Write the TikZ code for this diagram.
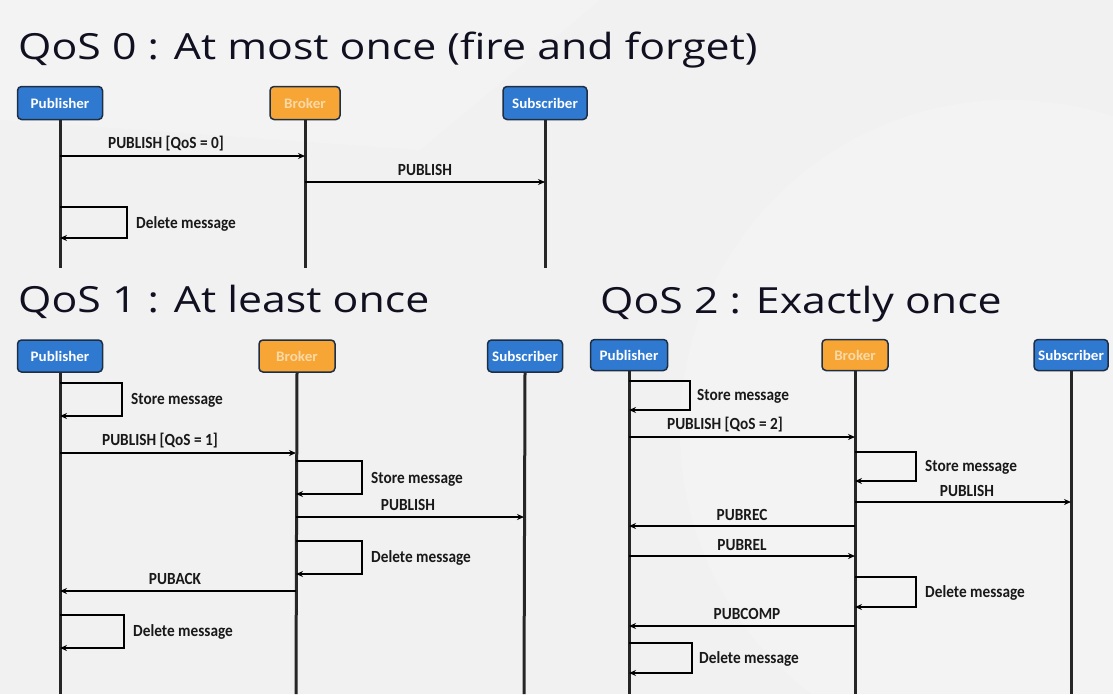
\documentclass[tikz,border=0pt]{standalone}
\usepackage{fontspec}
\setmainfont{Carlito}
\newfontfamily\titlefont[FakeStretch=1.19]{Open Sans}
\newfontfamily\lblfont[FakeStretch=0.9]{Carlito}
\newfontfamily\boxfont[FakeStretch=1.04]{Carlito}
\usetikzlibrary{arrows.meta}
\definecolor{bg}{HTML}{F1F1F1}
\definecolor{pubblue}{HTML}{2F7AD0}
\definecolor{boxedge}{HTML}{1E2E45}
\definecolor{brokerorange}{HTML}{F7A535}
\definecolor{brokertext}{HTML}{FBD9A6}
\definecolor{titlecol}{HTML}{101020}
\tikzset{
  actor/.style={draw=boxedge, line width=1.5pt, rounded corners=4pt, text=white,
    font=\boxfont\bfseries\fontsize{14.5}{17}\selectfont, inner sep=0pt},
  pub/.style={actor, fill=pubblue},
  brk/.style={actor, fill=brokerorange, text=brokertext},
  life/.style={line width=3pt, draw=black!85},
  msg/.style={line width=1.4pt, -{Stealth[length=7pt,width=6pt]}},
  lbl/.style={font=\lblfont\bfseries\fontsize{17}{19}\selectfont, inner sep=0pt, text=black!90},
  ttl/.style={font=\titlefont\fontsize{36}{42}\selectfont, anchor=base west, inner sep=0pt, text=titlecol}
}
\begin{document}
\begin{tikzpicture}[x=1pt,y=-1pt]
\fill[bg] (0,0) rectangle (1113,694);
\begin{scope}
\clip (0,0) rectangle (1113,694);
\fill[white, opacity=0.2] (1010,430) circle (330);
\fill[white, opacity=0.15] (0,0) -- (600,0) -- (420,150) -- (0,120) -- cycle;
\end{scope}
\useasboundingbox (0,0) rectangle (1113,694);

% ---------- QoS 0 ----------
\node[ttl] (t0) at (18,59) {QoS 0 : At most once (fire and forget)};
\node[pub, minimum width=85pt, minimum height=33pt] (p0) at (60,103) {Publisher};
\node[brk, minimum width=70pt, minimum height=33pt] (b0) at (305,103) {Broker};
\node[pub, minimum width=84pt, minimum height=33pt] (s0) at (545,103) {Subscriber};
\coordinate (p0e) at (60,268);
\coordinate (b0e) at (305,268);
\coordinate (s0e) at (545,268);
\draw[life] (p0.south) -- (p0e);
\draw[life] (b0.south) -- (b0e);
\draw[life] (s0.south) -- (s0e);

\coordinate (p0m1) at (60,156); \coordinate (b0m1) at (305,156);
\draw[msg] (p0m1) -- (b0m1);
\node[lbl] (l01) at (166,144) {PUBLISH [QoS = 0]};
\coordinate (b0m2) at (305,182); \coordinate (s0m2) at (545,182);
\draw[msg] (b0m2) -- (s0m2);
\node[lbl] (l02) at (425,170) {PUBLISH};
\coordinate (p0d1) at (60,207); \coordinate (p0d2) at (60,238);
\draw[msg] (p0d1) -- ++(67,0) |- (p0d2);
\node[lbl, anchor=west] (l03) at (136,224) {Delete message};

% ---------- QoS 1 ----------
\node[ttl] (t1) at (18,312) {QoS 1 : At least once};
\node[pub, minimum width=85pt, minimum height=32pt] (p1) at (60,356) {Publisher};
\node[brk, minimum width=76pt, minimum height=32pt] (b1) at (297,356) {Broker};
\node[pub, minimum width=75pt, minimum height=32pt] (s1) at (525,356) {Subscriber};
\coordinate (p1e) at (60,694);
\coordinate (b1e) at (296,694);
\coordinate (s1e) at (524,694);
\draw[life] (p1.south) -- (p1e);
\draw[life] (b1.south) -- (b1e);
\draw[life] (s1.south) -- (s1e);

\coordinate (p1s1) at (60,383); \coordinate (p1s2) at (60,416);
\draw[msg] (p1s1) -- ++(62,0) |- (p1s2);
\node[lbl, anchor=west] (l11) at (131,400) {Store message};

\coordinate (p1m1) at (60,453); \coordinate (b1m1) at (296,453);
\draw[msg] (p1m1) -- (b1m1);
\node[lbl] (l12) at (160,441) {PUBLISH [QoS = 1]};

\coordinate (b1s1) at (296,461); \coordinate (b1s2) at (296,494);
\draw[msg] (b1s1) -- ++(66,0) |- (b1s2);
\node[lbl, anchor=west] (l13) at (371,479) {Store message};

\coordinate (b1m2) at (296,517); \coordinate (s1m2) at (524,517);
\draw[msg] (b1m2) -- (s1m2);
\node[lbl] (l14) at (408,505) {PUBLISH};

\coordinate (b1d1) at (296,541); \coordinate (b1d2) at (296,574);
\draw[msg] (b1d1) -- ++(66,0) |- (b1d2);
\node[lbl, anchor=west] (l15) at (371,558) {Delete message};

\coordinate (b1m3) at (296,591); \coordinate (p1m3) at (60,591);
\draw[msg] (b1m3) -- (p1m3);
\node[lbl] (l16) at (175,579) {PUBACK};

\coordinate (p1d1) at (60,615); \coordinate (p1d2) at (60,648);
\draw[msg] (p1d1) -- ++(64,0) |- (p1d2);
\node[lbl, anchor=west] (l17) at (133,632) {Delete message};

% ---------- QoS 2 ----------
\node[ttl] (t2) at (600,313) {QoS 2 : Exactly once};
\node[pub, minimum width=77pt, minimum height=31pt] (p2) at (629,355) {Publisher};
\node[brk, minimum width=66pt, minimum height=31pt] (b2) at (855,355) {Broker};
\node[pub, minimum width=74pt, minimum height=31pt] (s2) at (1071,355) {Subscriber};
\coordinate (p2e) at (629,694);
\coordinate (b2e) at (855,694);
\coordinate (s2e) at (1071,694);
\draw[life] (p2.south) -- (p2e);
\draw[life] (b2.south) -- (b2e);
\draw[life] (s2.south) -- (s2e);

\coordinate (p2s1) at (629,381); \coordinate (p2s2) at (629,410);
\draw[msg] (p2s1) -- ++(61,0) |- (p2s2);
\node[lbl, anchor=west] (l21) at (697,396) {Store message};

\coordinate (p2m1) at (629,437); \coordinate (b2m1) at (855,437);
\draw[msg] (p2m1) -- (b2m1);
\node[lbl] (l22) at (725,425) {PUBLISH [QoS = 2]};

\coordinate (b2s1) at (855,452); \coordinate (b2s2) at (855,481);
\draw[msg] (b2s1) -- ++(61,0) |- (b2s2);
\node[lbl, anchor=west] (l23) at (925,467) {Store message};

\coordinate (b2m2) at (855,502); \coordinate (s2m2) at (1071,502);
\draw[msg] (b2m2) -- (s2m2);
\node[lbl] (l24) at (967,491) {PUBLISH};

\coordinate (b2m3) at (855,526); \coordinate (p2m3) at (629,526);
\draw[msg] (b2m3) -- (p2m3);
\node[lbl] (l25) at (742,515) {PUBREC};

\coordinate (p2m4) at (629,556); \coordinate (b2m4) at (855,556);
\draw[msg] (p2m4) -- (b2m4);
\node[lbl] (l26) at (742,545) {PUBREL};

\coordinate (b2d1) at (855,577); \coordinate (b2d2) at (855,607);
\draw[msg] (b2d1) -- ++(61,0) |- (b2d2);
\node[lbl, anchor=west] (l27) at (925,593) {Delete message};

\coordinate (b2m5) at (855,626); \coordinate (p2m5) at (629,626);
\draw[msg] (b2m5) -- (p2m5);
\node[lbl] (l28) at (747,614) {PUBCOMP};

\coordinate (p2d1) at (629,643); \coordinate (p2d2) at (629,673);
\draw[msg] (p2d1) -- ++(63,0) |- (p2d2);
\node[lbl, anchor=west] (l29) at (699,659) {Delete message};
\end{tikzpicture}
\end{document}
